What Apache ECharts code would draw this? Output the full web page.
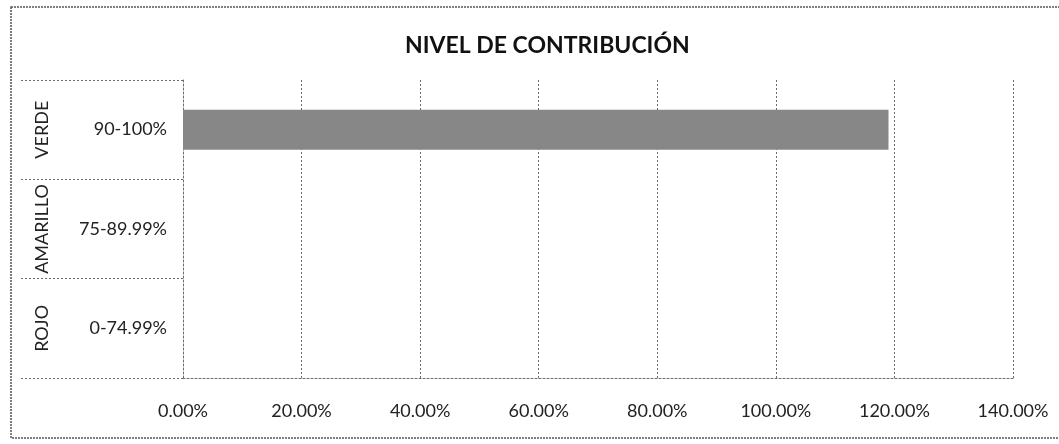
<!DOCTYPE html>
<html>
<head>
<meta charset="utf-8">
<script src="https://cdn.jsdelivr.net/npm/echarts@6/dist/echarts.min.js"></script>
<style>
  html, body { margin: 0; padding: 0; background: #fff; }
  #chart { width: 1059px; height: 444px; }
</style>
</head>
<body>
<div id="chart"></div>
<script>
// datos del grafico
const niveles = ['VERDE', 'AMARILLO', 'ROJO']
const rangos = ['90-100%', '75-89.99%', '0-74.99%']
const contribucion = [1.19, null, null]
const ejeMin = 0
const ejeMax = 1.4
const ejeIntervalo = 0.2

const myChart = echarts.init(document.getElementById('chart'))

const fuente = 'Lato, "Open Sans", sans-serif'
const lineaPunteada = { color: '#6b6b6b', type: [2, 2], width: 1 }

const option = {
  animation: false,
  textStyle: { fontFamily: fuente },
  title: {
    text: 'NIVEL DE CONTRIBUCIÓN',
    left: 400,
    top: 29,
    textStyle: { fontFamily: fuente, fontSize: 23, fontWeight: 'bold', color: '#111' },
  },
  graphic: [
    {
      // borde del area del grafico
      type: 'rect',
      shape: { x: 11, y: 7, width: 1100, height: 431 },
      style: { fill: 'none', stroke: '#555', lineWidth: 1.5, lineDash: [2, 1] },
      silent: true,
    },
  ],
  grid: { left: 183, right: 46, top: 80, bottom: 66 },
  xAxis: {
    type: 'value',
    min: ejeMin,
    max: ejeMax,
    interval: ejeIntervalo,
    axisLine: { show: true, lineStyle: lineaPunteada },
    axisTick: { show: false },
    splitLine: { show: true, lineStyle: lineaPunteada },
    axisLabel: {
      margin: 24,
      fontSize: 18,
      color: '#222',
      formatter: (v) => (v * 100).toFixed(2) + '%',
    },
  },
  yAxis: [
    {
      type: 'category',
      inverse: true,
      data: rangos,
      axisLine: { show: true, lineStyle: lineaPunteada },
      axisTick: { show: true, length: 163, lineStyle: lineaPunteada },
      axisLabel: { interval: 0, margin: 16, fontSize: 18, color: '#222' },
    },
    {
      type: 'category',
      inverse: true,
      position: 'left',
      offset: 124,
      data: niveles,
      axisLine: { show: false },
      axisTick: { show: false },
      axisLabel: { interval: 0, hideOverlap: false, rotate: 90, margin: 8, fontSize: 18, color: '#222' },
    },
  ],
  series: [
    {
      type: 'bar',
      yAxisIndex: 0,
      data: contribucion,
      barWidth: 40,
      itemStyle: { color: '#878787' },
    },
  ],
}

myChart.setOption(option)
</script>
</body>
</html>
